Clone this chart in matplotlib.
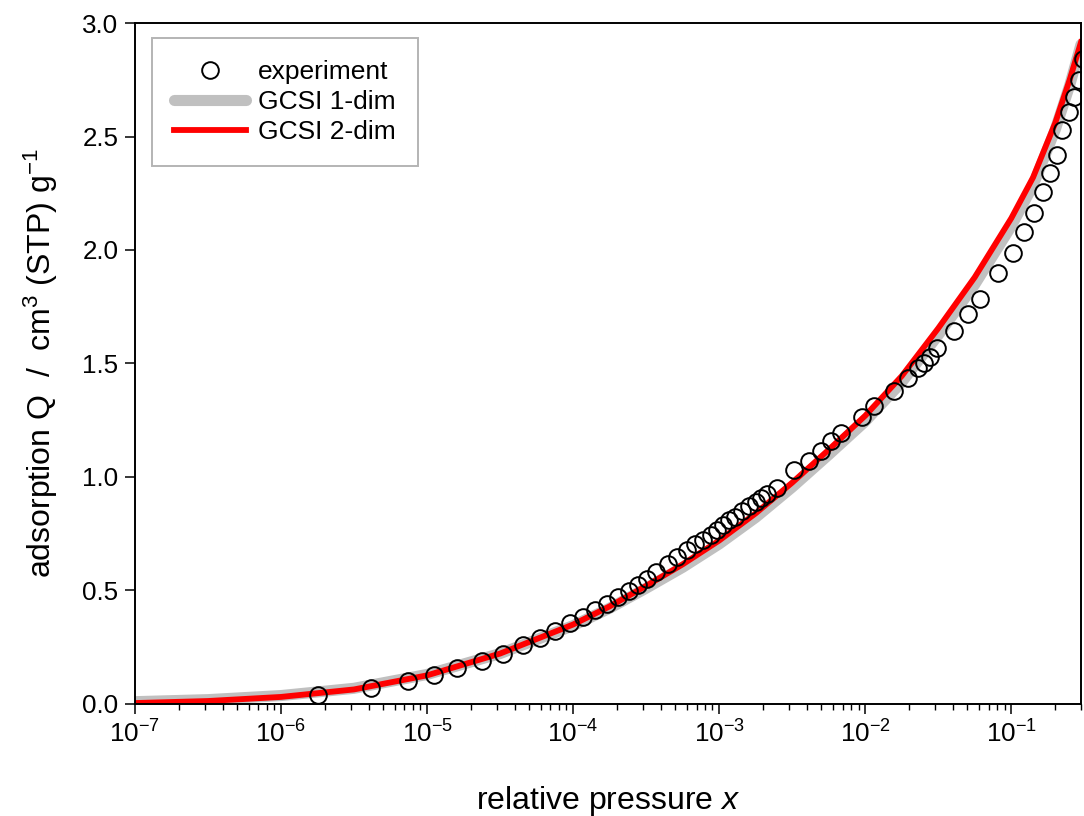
import matplotlib
matplotlib.use("Agg")
import matplotlib.pyplot as plt
from matplotlib.ticker import LogLocator, NullLocator, MultipleLocator, FormatStrFormatter

plt.rcParams["font.family"] = ["Liberation Sans", "DejaVu Sans"]
plt.rcParams["mathtext.fontset"] = "custom"
plt.rcParams["mathtext.rm"] = "Liberation Sans"
plt.rcParams["mathtext.it"] = "Liberation Sans:italic"
plt.rcParams["axes.unicode_minus"] = False

# experimental points (relative pressure, adsorption)
exp_x = [1.80e-6, 4.16e-6, 7.35e-6, 1.12e-5, 1.61e-5, 2.36e-5, 3.29e-5, 4.51e-5,
         5.90e-5, 7.48e-5, 9.48e-5, 1.16e-4, 1.41e-4, 1.70e-4, 2.02e-4, 2.40e-4,
         2.77e-4, 3.20e-4, 3.69e-4, 4.46e-4, 5.14e-4, 6.01e-4, 6.82e-4, 7.74e-4,
         8.79e-4, 9.66e-4, 1.06e-3, 1.17e-3, 1.28e-3, 1.43e-3, 1.60e-3, 1.79e-3,
         1.94e-3, 2.13e-3, 2.49e-3, 3.26e-3, 4.13e-3, 4.99e-3, 5.85e-3, 6.84e-3,
         9.53e-3, 1.15e-2, 1.58e-2, 1.97e-2, 2.28e-2, 2.54e-2, 2.79e-2, 3.12e-2,
         4.07e-2, 5.08e-2, 6.15e-2, 8.17e-2, 0.102, 0.123, 0.142, 0.164,
         0.183, 0.204, 0.221, 0.247, 0.267, 0.289, 0.31]
exp_q = [0.040, 0.070, 0.101, 0.128, 0.159, 0.189, 0.220, 0.260,
         0.291, 0.322, 0.357, 0.383, 0.414, 0.441, 0.471, 0.498,
         0.524, 0.551, 0.581, 0.617, 0.648, 0.678, 0.705, 0.722,
         0.744, 0.767, 0.789, 0.811, 0.824, 0.850, 0.872, 0.890,
         0.907, 0.925, 0.952, 1.031, 1.070, 1.115, 1.159, 1.192,
         1.264, 1.313, 1.379, 1.436, 1.480, 1.502, 1.529, 1.568,
         1.643, 1.718, 1.784, 1.899, 1.987, 2.079, 2.163, 2.256,
         2.339, 2.419, 2.529, 2.608, 2.674, 2.749, 2.84]

# model curves
fit_x = [1e-7, 3.16e-7, 1e-6, 3.16e-6, 1e-5, 3.16e-5, 1e-4, 1.78e-4, 3.16e-4,
         5.62e-4, 1e-3, 1.78e-3, 3.16e-3, 5.62e-3, 1e-2, 1.78e-2, 3.16e-2,
         5.62e-2, 0.1, 0.141, 0.2, 0.251, 0.3]
gcsi1_q = [0.010, 0.019, 0.037, 0.069, 0.130, 0.222, 0.345, 0.422, 0.510,
           0.602, 0.705, 0.822, 0.955, 1.098, 1.245, 1.418, 1.625,
           1.848, 2.105, 2.285, 2.530, 2.725, 2.905]
gcsi2_q = [0.004, 0.013, 0.031, 0.064, 0.126, 0.222, 0.350, 0.430, 0.520,
           0.615, 0.720, 0.840, 0.975, 1.120, 1.270, 1.445, 1.655,
           1.880, 2.140, 2.320, 2.560, 2.750, 2.915]

x_ticks = [1e-7, 1e-6, 1e-5, 1e-4, 1e-3, 1e-2, 1e-1]

fig = plt.figure(figsize=(10.84, 8.16), dpi=100)
ax = fig.add_axes([0.1245, 0.1373, 0.8727, 0.8345])

ax.plot(exp_x, exp_q, "o", ms=12, mfc="none", mec="black", mew=1.4,
        label="experiment", zorder=3)
ax.plot(fit_x, gcsi1_q, color="#c0c0c0", lw=8, solid_capstyle="round",
        solid_joinstyle="round", label="GCSI 1-dim", zorder=1)
ax.plot(fit_x, gcsi2_q, color="#ff0000", lw=4.2, solid_joinstyle="round",
        label="GCSI 2-dim", zorder=2)

ax.set_xscale("log")
ax.set_xlim(1e-7, 0.3)
ax.set_ylim(0, 3.0)
ax.set_xticks(x_ticks)
ax.xaxis.set_minor_locator(LogLocator(base=10, subs=range(2, 10), numticks=20))
ax.yaxis.set_major_locator(MultipleLocator(0.5))
ax.yaxis.set_minor_locator(NullLocator())
ax.yaxis.set_major_formatter(FormatStrFormatter("%.1f"))

ax.tick_params(which="major", direction="out", length=7, width=1.1,
               labelsize=18.7, pad=5)
ax.tick_params(which="minor", direction="out", length=4, width=1.0)
for s in ax.spines.values():
    s.set_linewidth(1.4)

ax.set_xlabel("relative pressure $x$", fontsize=23, labelpad=26)
ax.set_ylabel("adsorption Q  /  cm$^3$ (STP) g$^{-1}$", fontsize=23, labelpad=16)

leg = ax.legend(loc="upper left", bbox_to_anchor=(0.018, 0.978),
                borderaxespad=0, fontsize=19, numpoints=1, handlelength=2.7,
                handletextpad=0.45, labelspacing=0.22, borderpad=0.85,
                fancybox=False, framealpha=1)
leg.get_frame().set_edgecolor("#b4b4b4")
leg.get_frame().set_linewidth(1.4)

fig.savefig("out.png", dpi=100)
